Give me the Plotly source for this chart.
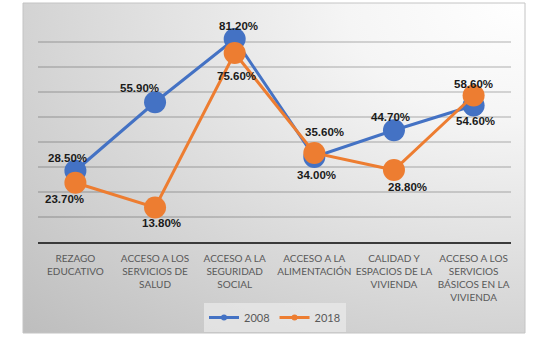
import base64
import plotly.graph_objects as go

categories = [
    "REZAGO<br>EDUCATIVO",
    "ACCESO A LOS<br>SERVICIOS DE<br>SALUD",
    "ACCESO A LA<br>SEGURIDAD<br>SOCIAL",
    "ACCESO A LA<br>ALIMENTACIÓN",
    "CALIDAD Y<br>ESPACIOS DE LA<br>VIVIENDA",
    "ACCESO A LOS<br>SERVICIOS<br>BÁSICOS EN LA<br>VIVIENDA",
]
values_2008 = [28.5, 55.9, 81.2, 34.0, 44.7, 54.6]
values_2018 = [23.7, 13.8, 75.6, 35.6, 28.8, 58.6]
series_names = ["2008", "2018"]

# label offsets (style only)
shift_2008 = [(-8, 13), (-16, 14), (4, 13), (2, -18), (-3, 13), (2, -15)]
shift_2018 = [(-11, -16), (6, -15), (2, -23), (10, 21), (14, -17), (0, 12)]

BLUE = "#4472C4"
ORANGE = "#ED7D31"

fig = go.Figure()

for name, vals, col in [(series_names[0], values_2008, BLUE), (series_names[1], values_2018, ORANGE)]:
    fig.add_trace(go.Scatter(
        x=categories, y=vals, mode="lines+markers", name=name,
        line=dict(color=col, width=3),
        marker=dict(color=col, size=22),
        showlegend=False, hoverinfo="skip",
    ))
# legend entries with small markers
for name, col in [(series_names[0], BLUE), (series_names[1], ORANGE)]:
    fig.add_trace(go.Scatter(
        x=[None], y=[None], mode="lines+markers", name=name,
        line=dict(color=col, width=3), marker=dict(color=col, size=6),
    ))

annotations = []
for vals, shifts in [(values_2008, shift_2008), (values_2018, shift_2018)]:
    for c, v, (dx, dy) in zip(categories, vals, shifts):
        annotations.append(dict(
            x=c, y=v, xref="x", yref="y", text=f"{v:.2f}%", showarrow=False,
            xshift=dx, yshift=dy,
            font=dict(family="Liberation Sans, Arial", size=11.5, color="#1a1a1a", weight="bold"),
        ))

svg = (
    '<svg xmlns="http://www.w3.org/2000/svg" width="100" height="100" viewBox="0 0 100 100" preserveAspectRatio="none">'
    '<defs><radialGradient id="g" cx="1" cy="0" r="1.42" fx="1" fy="0" gradientUnits="objectBoundingBox">'
    '<stop offset="0" stop-color="#ffffff"/><stop offset="0.25" stop-color="#f5f5f5"/>'
    '<stop offset="1" stop-color="#bdbdbd"/></radialGradient></defs>'
    '<rect x="0" y="0" width="100" height="100" fill="url(#g)"/></svg>'
)
src = "data:image/svg+xml;base64," + base64.b64encode(svg.encode()).decode()

L, R, T, B = 38, 29, 17, 96
W, H = 540, 338
pw, ph = W - L - R, H - T - B
px0, px1, py0, py1 = 23, 525, 3, 333
ix0 = (px0 - L) / pw
ix1 = (px1 - L) / pw
iy_top = (H - B - py0) / ph
iy_bot = (H - B - py1) / ph

fig.update_layout(
    width=W, height=H,
    margin=dict(l=L, r=R, t=T, b=B, autoexpand=False),
    paper_bgcolor="white",
    plot_bgcolor="rgba(0,0,0,0)",
    font=dict(family="Lato, Liberation Sans, Arial", size=10, color="#595959"),
    images=[dict(source=src, xref="paper", yref="paper", x=ix0, y=iy_top,
                 sizex=ix1 - ix0, sizey=iy_top - iy_bot, sizing="stretch",
                 xanchor="left", yanchor="top", layer="below")],
    shapes=[dict(type="rect", xref="paper", yref="paper", x0=ix0, x1=ix1, y0=iy_bot, y1=iy_top,
                 line=dict(color="#c4c4c4", width=1), fillcolor="rgba(0,0,0,0)", layer="below")],
    annotations=annotations,
    showlegend=True,
    legend=dict(orientation="h", x=(275 - L) / pw, xanchor="center", y=(H - B - 317.5) / ph, yanchor="middle",
                bgcolor="rgba(235,235,235,0.7)", font=dict(size=11, color="#595959",
                family="Lato, Liberation Sans, Arial"),
                itemwidth=30, tracegroupgap=0),
    xaxis=dict(showgrid=False, showline=True, linecolor="#3a3a3a", linewidth=1.5, automargin=False,
               ticks="", ticklabelstandoff=6, tickfont=dict(size=10, color="#595959"), fixedrange=True),
    yaxis=dict(range=[0, 90], dtick=10, showgrid=True, gridcolor="rgba(0,0,0,0.15)", gridwidth=1.5,
               automargin=False, showticklabels=False, zeroline=False, fixedrange=True),
)

fig.write_html("out.html", post_script="document.body.style.margin='0';",
               config={"displayModeBar": False})
